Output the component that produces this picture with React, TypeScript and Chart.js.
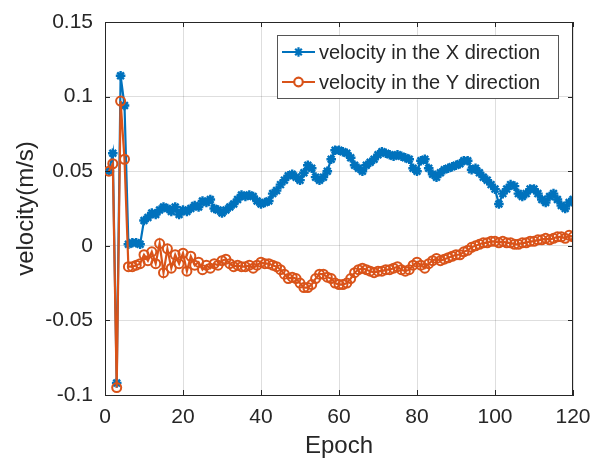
import React, { useEffect, useRef } from "react";
import { Chart, registerables } from "chart.js";

Chart.register(...registerables);

const epochs: number[] = Array.from({ length: 120 }, (_, i) => i + 1);

const velocityX: number[] = [
  0.050, 0.062, -0.092, 0.114, 0.094, 0.001, 0.002, 0.002, 0.001, 0.017,
  0.019, 0.022, 0.021, 0.024, 0.026, 0.025, 0.023, 0.026, 0.021, 0.024,
  0.023, 0.025, 0.027, 0.026, 0.030, 0.029, 0.031, 0.025, 0.024, 0.022,
  0.024, 0.026, 0.028, 0.031, 0.034, 0.033, 0.034, 0.033, 0.030, 0.028,
  0.029, 0.030, 0.035, 0.037, 0.041, 0.044, 0.047, 0.048, 0.046, 0.044,
  0.049, 0.054, 0.052, 0.046, 0.044, 0.046, 0.050, 0.058, 0.064, 0.064,
  0.063, 0.062, 0.059, 0.054, 0.052, 0.050, 0.054, 0.056, 0.058, 0.061,
  0.063, 0.062, 0.061, 0.060, 0.061, 0.060, 0.059, 0.058, 0.052, 0.050,
  0.057, 0.058, 0.052, 0.048, 0.046, 0.049, 0.051, 0.052, 0.053, 0.054,
  0.055, 0.057, 0.057, 0.051, 0.052, 0.049, 0.046, 0.044, 0.041, 0.038,
  0.028, 0.035, 0.038, 0.041, 0.040, 0.035, 0.033, 0.035, 0.038, 0.038,
  0.035, 0.031, 0.029, 0.033, 0.035, 0.031, 0.027, 0.025, 0.029, 0.031,
];

const velocityY: number[] = [
  0.050, 0.055, -0.095, 0.097, 0.058, -0.014, -0.014, -0.013, -0.012, -0.006,
  -0.010, -0.004, -0.012, 0.0015, -0.018, -0.002, -0.015, -0.006, -0.012, -0.005,
  -0.017, -0.007, -0.013, -0.011, -0.016, -0.013, -0.015, -0.012, -0.013, -0.010,
  -0.009, -0.012, -0.014, -0.013, -0.014, -0.014, -0.013, -0.015, -0.013, -0.011,
  -0.012, -0.012, -0.013, -0.014, -0.016, -0.019, -0.022, -0.021, -0.022, -0.025,
  -0.028, -0.028, -0.026, -0.022, -0.019, -0.019, -0.021, -0.022, -0.025, -0.026,
  -0.026, -0.025, -0.022, -0.018, -0.016, -0.015, -0.016, -0.017, -0.018, -0.017,
  -0.017, -0.016, -0.016, -0.015, -0.014, -0.016, -0.017, -0.016, -0.013, -0.011,
  -0.013, -0.015, -0.012, -0.010, -0.0085, -0.010, -0.009, -0.008, -0.007, -0.006,
  -0.006, -0.004, -0.003, -0.001, 0.000, 0.001, 0.002, 0.002, 0.003, 0.003,
  0.002, 0.003, 0.002, 0.002, 0.001, 0.001, 0.002, 0.002, 0.003, 0.003,
  0.004, 0.004, 0.005, 0.004, 0.005, 0.006, 0.006, 0.005, 0.007, 0.006,
];

const xTicks: number[] = [0, 20, 40, 60, 80, 100, 120];
const yTicks: number[] = [-0.1, -0.05, 0, 0.05, 0.1, 0.15];
const seriesNames: string[] = [
  "velocity in the X direction",
  "velocity in the Y direction",
];

const BLUE = "#0072BD";
const ORANGE = "#D95319";
const AXIS = "#262626";
const FONT = "'Liberation Sans', Arial, sans-serif";

const boxPlugin = {
  id: "matlabBox",
  afterDraw(chart: any) {
    const { ctx, chartArea } = chart;
    const { left, right, top, bottom } = chartArea;
    const xs = chart.scales.x;
    const ys = chart.scales.y;
    ctx.save();
    ctx.strokeStyle = AXIS;
    ctx.lineWidth = 1;
    ctx.beginPath();
    ctx.moveTo(left, top + 0.5);
    ctx.lineTo(right, top + 0.5);
    ctx.moveTo(right - 0.5, top);
    ctx.lineTo(right - 0.5, bottom);
    const tl = 5;
    xTicks.forEach((v) => {
      const px = Math.round(xs.getPixelForValue(v)) + 0.5;
      ctx.moveTo(px, bottom);
      ctx.lineTo(px, bottom - tl);
      ctx.moveTo(px, top);
      ctx.lineTo(px, top + tl);
    });
    yTicks.forEach((v) => {
      const py = Math.round(ys.getPixelForValue(v)) + 0.5;
      ctx.moveTo(left, py);
      ctx.lineTo(left + tl, py);
      ctx.moveTo(right, py);
      ctx.lineTo(right - tl, py);
    });
    ctx.stroke();

    // legend
    const bx = 277.5, by = 35.5, bw = 281, bh = 63;
    ctx.fillStyle = "#ffffff";
    ctx.fillRect(bx, by, bw, bh);
    ctx.strokeStyle = "#555555";
    ctx.strokeRect(bx, by, bw, bh);
    const rows = [
      { y: 52, color: BLUE, marker: "star" },
      { y: 82, color: ORANGE, marker: "circle" },
    ];
    rows.forEach((r, i) => {
      ctx.strokeStyle = r.color;
      ctx.lineWidth = 2.2;
      ctx.beginPath();
      ctx.moveTo(282, r.y);
      ctx.lineTo(315, r.y);
      ctx.stroke();
      ctx.lineWidth = 2.2;
      ctx.beginPath();
      if (r.marker === "circle") {
        ctx.fillStyle = "#ffffff";
        ctx.arc(298.5, r.y, 4.3, 0, Math.PI * 2);
        ctx.fill();
        ctx.stroke();
      } else {
        const s = 4.7;
        ctx.moveTo(298.5 - s, r.y);
        ctx.lineTo(298.5 + s, r.y);
        ctx.moveTo(298.5, r.y - s);
        ctx.lineTo(298.5, r.y + s);
        const d = s * 0.707;
        ctx.moveTo(298.5 - d, r.y - d);
        ctx.lineTo(298.5 + d, r.y + d);
        ctx.moveTo(298.5 - d, r.y + d);
        ctx.lineTo(298.5 + d, r.y - d);
        ctx.stroke();
      }
      ctx.fillStyle = AXIS;
      ctx.font = `20px ${FONT}`;
      ctx.textBaseline = "middle";
      ctx.textAlign = "left";
      ctx.fillText(seriesNames[i], 319, r.y + 1);
    });
    ctx.restore();
  },
};

export default function App() {
  const ref = useRef<HTMLCanvasElement | null>(null);
  useEffect(() => {
    if (!ref.current) return;
    const chart = new Chart(ref.current, {
      type: "line",
      data: {
        datasets: [
          {
            label: seriesNames[0],
            data: epochs.map((e, i) => ({ x: e, y: velocityX[i] })),
            borderColor: BLUE,
            backgroundColor: BLUE,
            borderWidth: 2.2,
            pointStyle: "star",
            pointRadius: 4.8,
            pointBorderWidth: 2.4,
            pointBorderColor: BLUE,
            order: 2,
          },
          {
            label: seriesNames[1],
            data: epochs.map((e, i) => ({ x: e, y: velocityY[i] })),
            borderColor: ORANGE,
            backgroundColor: "rgba(0,0,0,0)",
            borderWidth: 2.2,
            pointStyle: "circle",
            pointRadius: 4.5,
            pointBorderWidth: 2,
            pointBorderColor: ORANGE,
            pointBackgroundColor: "rgba(255,255,255,0)",
            order: 1,
          },
        ],
      },
      options: {
        animation: false,
        responsive: false,
        layout: { padding: { top: 22, right: 19, left: 0, bottom: 0 } },
        plugins: {
          legend: { display: false },
          tooltip: { enabled: false },
        },
        scales: {
          x: {
            type: "linear",
            min: 0,
            max: 120,
            afterBuildTicks: (s: any) => {
              s.ticks = xTicks.map((v) => ({ value: v }));
            },
            afterFit: (s: any) => {
              s.height = 69;
              s.paddingLeft = 0;
              s.paddingRight = 0;
            },
            grid: { color: "rgba(0,0,0,0.13)", drawTicks: false },
            border: { display: true, color: AXIS, width: 1 },
            ticks: {
              color: AXIS,
              font: { size: 21, family: FONT },
              padding: 10,
              maxRotation: 0,
              autoSkip: false,
            },
            title: {
              display: true,
              text: "Epoch",
              color: AXIS,
              font: { size: 24, family: FONT },
              padding: { top: 0, bottom: 3 },
            },
          },
          y: {
            type: "linear",
            min: -0.1,
            max: 0.15,
            afterBuildTicks: (s: any) => {
              s.ticks = yTicks.map((v) => ({ value: v }));
            },
            afterFit: (s: any) => {
              s.width = 105;
              s.paddingTop = 0;
              s.paddingBottom = 0;
            },
            grid: { color: "rgba(0,0,0,0.13)", drawTicks: false },
            border: { display: true, color: AXIS, width: 1 },
            ticks: {
              color: AXIS,
              font: { size: 21, family: FONT },
              padding: 12,
              autoSkip: false,
              callback: (v: any) => String(Math.round(Number(v) * 100) / 100),
            },
            title: {
              display: true,
              text: "velocity(m/s)",
              color: AXIS,
              font: { size: 24, family: FONT },
              padding: { top: 12, bottom: 0 },
            },
          },
        },
      },
      plugins: [boxPlugin],
    } as any);
    return () => chart.destroy();
  }, []);
  return (
    <div style={{ position: "absolute", left: 0, top: 0, width: 592, height: 464, background: "#fff" }}>
      <canvas ref={ref} width={592} height={464} style={{ display: "block" }} />
    </div>
  );
}
